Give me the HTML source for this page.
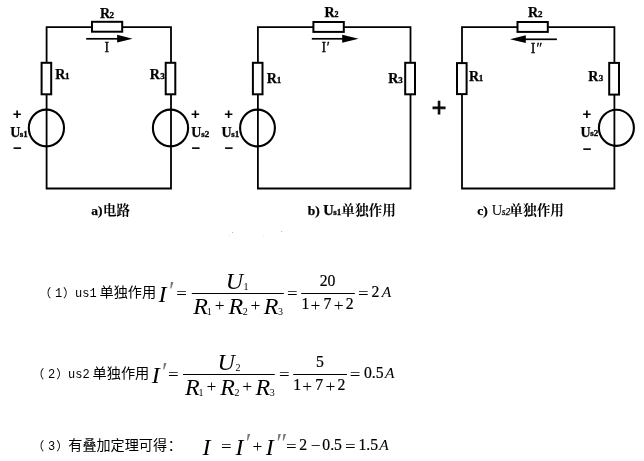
<!DOCTYPE html>
<html lang="zh-CN">
<head>
<meta charset="utf-8">
<title>叠加定理 电路</title>
<style>
html,body{margin:0;padding:0;background:#fff;}
body{width:644px;height:461px;overflow:hidden;position:relative;}
svg{position:absolute;left:0;top:0;display:block;will-change:transform;}
text{fill:#000;white-space:pre;}
.w{fill:none;stroke:#000;stroke-width:1.8;}
.k{fill:none;stroke:#000;stroke-width:2.1;}
.r{fill:#fff;stroke:#000;stroke-width:2;}
.a{fill:none;stroke:#000;stroke-width:1.7;}
.fb{fill:none;stroke:#000;stroke-width:1;}
.CB{font-family:"Liberation Serif","Noto Serif CJK SC",serif;font-weight:bold;}
.GS{font-family:"Liberation Sans","Noto Sans CJK SC",sans-serif;}
.LB{font-family:"Liberation Serif","Noto Serif CJK SC",serif;font-weight:bold;}
.LI{font-family:"Liberation Serif","Noto Serif CJK SC",serif;font-style:italic;}
.LR{font-family:"Liberation Serif","Noto Serif CJK SC",serif;}
.MO{font-family:"Liberation Mono",monospace;}
.SB{font-family:"Liberation Sans","Noto Sans CJK SC",sans-serif;font-weight:bold;}
.SR{font-family:"Liberation Sans","Noto Sans CJK SC",sans-serif;}
</style>
</head>
<body>
<svg width="644" height="461" viewBox="0 0 644 461" role="img" aria-label="叠加定理电路图与计算">
<rect width="644" height="461" fill="#fff"/>
<!-- circuit a -->
<path class="w" d="M46.6 188.5V27.2H171V188.5Z"/>
<ellipse class="k" cx="46.4" cy="128" rx="17.6" ry="18.4"/>
<ellipse class="k" cx="170.5" cy="128" rx="17.6" ry="18.4"/>
<rect class="r" x="92" y="21.8" width="30.2" height="9.9"/>
<rect class="r" x="41.6" y="62.8" width="9.6" height="31.5"/>
<rect class="r" x="165.7" y="62.8" width="9.6" height="31.5"/>
<path class="a" d="M86.2 38.8H118"/>
<path d="M117.1 34.8L132.6 38.7L117.1 42.6Z" fill="#000"/>
<!-- circuit b -->
<path class="w" d="M257.9 188.5V27.1H410.5V188.5Z"/>
<ellipse class="k" cx="257.5" cy="128" rx="17.4" ry="18.4"/>
<rect class="r" x="313.4" y="22" width="30.4" height="9.9"/>
<rect class="r" x="252.9" y="62.8" width="9.6" height="31.5"/>
<rect class="r" x="405.2" y="62.8" width="9.8" height="31.5"/>
<path class="a" d="M311.8 38.8H343"/>
<path d="M342.2 34.7L358.6 38.7L342.2 42.7Z" fill="#000"/>
<!-- circuit c -->
<path class="w" d="M462 188.5V27.1H614.4V188.5Z"/>
<ellipse class="k" cx="616.4" cy="127.8" rx="17.5" ry="18.1"/>
<rect class="r" x="517.5" y="22" width="30.3" height="9.9"/>
<rect class="r" x="457" y="63.1" width="9.6" height="31"/>
<rect class="r" x="609.2" y="62.9" width="9.8" height="31.7"/>
<path class="a" d="M525 39.3H556.9"/>
<path d="M525.8 35.3L510 39.2L525.8 43.1Z" fill="#000"/>
<!-- fraction bars -->
<path class="fb" d="M191.8 293.5H283.8M301.2 293.5H354.8"/>
<path class="fb" d="M183 374.5H274.8M293.2 374.5H347"/>
<!-- faint scan specks -->
<g fill="#9a9a9a"><circle cx="232.6" cy="232.4" r="0.5"/><circle cx="229.2" cy="235.2" r="0.45" opacity=".6"/><circle cx="263.4" cy="236.4" r="0.4" opacity=".7"/><circle cx="281.7" cy="231.5" r="0.5"/></g>

<text><tspan class="LB" font-size="14" stroke="#000" stroke-width="0.25" x="99.95" y="17.50">R</tspan><tspan class="LB" font-size="9" stroke="#000" stroke-width="0.3" x="109.50" y="17.50">2</tspan></text>
<text class="LR" font-size="14" stroke="#000" stroke-width="0.3" x="104.40" y="51.80">I</text>
<text><tspan class="LB" font-size="14" stroke="#000" stroke-width="0.25" x="55.25" y="78.80">R</tspan><tspan class="LB" font-size="9" stroke="#000" stroke-width="0.3" x="64.95" y="78.80">1</tspan></text>
<text><tspan class="LB" font-size="14" stroke="#000" stroke-width="0.25" x="149.65" y="78.80">R</tspan><tspan class="LB" font-size="9" stroke="#000" stroke-width="0.3" x="160.15" y="78.80">3</tspan></text>
<text class="SB" font-size="15" x="12.70" y="119.00">+</text>
<text class="SB" font-size="15" x="13.12" y="153.40">−</text>
<text><tspan class="LB" font-size="14" stroke="#000" stroke-width="0.25" x="10.35" y="136.60">U</tspan><tspan class="LB" font-size="9" stroke="#000" stroke-width="0.3" x="19.75" y="136.50">s1</tspan></text>
<text class="SB" font-size="15" x="191.10" y="118.90">+</text>
<text class="SB" font-size="15" x="191.43" y="153.40">−</text>
<text><tspan class="LB" font-size="14" stroke="#000" stroke-width="0.25" x="191.35" y="136.90">U</tspan><tspan class="LB" font-size="9" stroke="#000" stroke-width="0.3" x="201.35" y="136.80">s2</tspan></text>
<text><tspan class="LB" font-size="13.5" stroke="#000" stroke-width="0.25" x="91.30" y="214.80">a)</tspan><tspan class="CB" font-size="13.5" x="103.10" y="214.75">电路</tspan></text>
<text><tspan class="LB" font-size="14" stroke="#000" stroke-width="0.25" x="324.55" y="17.40">R</tspan><tspan class="LB" font-size="8" stroke="#000" stroke-width="0.3" x="334.55" y="17.40">2</tspan></text>
<text><tspan class="LR" font-size="14" stroke="#000" stroke-width="0.3" x="321.60" y="51.90">I</tspan><tspan class="LR" font-size="14" stroke="#000" stroke-width="0.3" x="326.65" y="51.90">′</tspan></text>
<text><tspan class="LB" font-size="14" stroke="#000" stroke-width="0.25" x="266.85" y="82.90">R</tspan><tspan class="LB" font-size="9" stroke="#000" stroke-width="0.3" x="276.85" y="82.90">1</tspan></text>
<text><tspan class="LB" font-size="14" stroke="#000" stroke-width="0.25" x="388.15" y="82.90">R</tspan><tspan class="LB" font-size="9" stroke="#000" stroke-width="0.3" x="398.35" y="82.90">3</tspan></text>
<text class="SB" font-size="15" x="224.30" y="118.90">+</text>
<text class="SB" font-size="15" x="224.62" y="153.40">−</text>
<text><tspan class="LB" font-size="14" stroke="#000" stroke-width="0.25" x="221.55" y="136.90">U</tspan><tspan class="LB" font-size="9" stroke="#000" stroke-width="0.3" x="231.15" y="136.80">s1</tspan></text>
<text><tspan class="LB" font-size="13.5" stroke="#000" stroke-width="0.25" x="307.85" y="214.80">b) </tspan><tspan class="LB" font-size="14.5" stroke="#000" stroke-width="0.25" x="323.35" y="214.80">U</tspan><tspan class="LB" font-size="9" stroke="#000" stroke-width="0.3" x="333.35" y="214.80">s1</tspan><tspan class="CB" font-size="13.7" x="341.20" y="215.05">单独作用</tspan></text>
<text class="SR" font-size="25" stroke="#000" stroke-width="0.8" x="431.65" y="115.67">+</text>
<text><tspan class="LB" font-size="14" stroke="#000" stroke-width="0.25" x="528.05" y="17.40">R</tspan><tspan class="LB" font-size="9" stroke="#000" stroke-width="0.3" x="537.90" y="17.40">2</tspan></text>
<text><tspan class="LR" font-size="14" stroke="#000" stroke-width="0.3" x="530.70" y="52.70">I</tspan><tspan class="LR" font-size="14" stroke="#000" stroke-width="0.3" x="536.55" y="52.70">″</tspan></text>
<text><tspan class="LB" font-size="14" stroke="#000" stroke-width="0.25" x="469.05" y="80.90">R</tspan><tspan class="LB" font-size="9" stroke="#000" stroke-width="0.3" x="478.65" y="80.90">1</tspan></text>
<text><tspan class="LB" font-size="14" stroke="#000" stroke-width="0.25" x="588.25" y="80.80">R</tspan><tspan class="LB" font-size="9" stroke="#000" stroke-width="0.3" x="598.75" y="80.80">3</tspan></text>
<text class="SB" font-size="15" x="582.50" y="118.70">+</text>
<text class="SB" font-size="15" x="582.83" y="153.60">−</text>
<text><tspan class="LB" font-size="14" stroke="#000" stroke-width="0.25" x="580.45" y="136.50">U</tspan><tspan class="LB" font-size="9" stroke="#000" stroke-width="0.3" x="590.15" y="136.40">s2</tspan></text>
<text><tspan class="LB" font-size="13.5" stroke="#000" stroke-width="0.25" x="477.30" y="214.80">c) </tspan><tspan class="LR" font-size="14.5" x="491.75" y="214.80">U</tspan><tspan class="LI" font-size="9.5" stroke="#000" stroke-width="0.25" x="501.75" y="214.80">s2</tspan><tspan class="CB" font-size="13.7" x="509.30" y="215.05">单独作用</tspan></text>
<text><tspan class="GS" font-size="12" x="39.25" y="297.82">（</tspan><tspan class="MO" font-size="12" x="54.95" y="297.10">1</tspan><tspan class="GS" font-size="12" x="63.05" y="297.82">）</tspan><tspan class="MO" font-size="12" x="75.00" y="297.20">us1</tspan><tspan class="GS" font-size="14.2" x="99.45" y="297.20">单独作用</tspan></text>
<text><tspan class="LI" font-size="24" x="158.60" y="301.60">I</tspan><tspan class="LI" font-size="27" fill="#777" x="167.20" y="299.55">′</tspan></text>
<text class="LR" font-size="16" transform="translate(176.31 298.75) scale(1.18 1)">=</text>
<text><tspan class="LI" font-size="24" x="225.75" y="289.05">U</tspan><tspan class="LR" font-size="10" x="243.60" y="289.80">1</tspan></text>
<text><tspan class="LI" font-size="24" x="193.20" y="313.60">R</tspan><tspan class="LR" font-size="10" x="206.70" y="314.60">1</tspan><tspan class="LR" font-size="17.5" x="214.78" y="311.15">+</tspan><tspan class="LI" font-size="24" x="228.50" y="313.60">R</tspan><tspan class="LR" font-size="10" x="242.70" y="314.60">2</tspan><tspan class="LR" font-size="17.5" x="250.53" y="311.15">+</tspan><tspan class="LI" font-size="24" x="263.80" y="313.60">R</tspan><tspan class="LR" font-size="10" x="277.90" y="314.60">3</tspan></text>
<text class="LR" font-size="16" transform="translate(287.12 298.60) scale(1.18 1)">=</text>
<text class="LR" font-size="15.7" stroke="#000" stroke-width="0.2" x="319.65" y="285.50">20</text>
<text><tspan class="LR" font-size="15.7" stroke="#000" stroke-width="0.2" x="301.50" y="308.60">1</tspan><tspan class="LR" font-size="17.5" x="310.48" y="310.55">+</tspan><tspan class="LR" font-size="15.7" stroke="#000" stroke-width="0.2" x="323.40" y="308.60">7</tspan><tspan class="LR" font-size="17.5" x="333.77" y="310.55">+</tspan><tspan class="LR" font-size="15.7" stroke="#000" stroke-width="0.2" x="345.75" y="308.60">2</tspan></text>
<text class="LR" font-size="16" transform="translate(358.01 298.60) scale(1.18 1)">=</text>
<text><tspan class="LR" font-size="15.7" stroke="#000" stroke-width="0.2" x="371.55" y="296.70">2</tspan><tspan class="LI" font-size="15.5" x="381.75" y="296.70">A</tspan></text>
<text><tspan class="GS" font-size="12" x="32.35" y="378.92">（</tspan><tspan class="MO" font-size="12" x="48.05" y="378.20">2</tspan><tspan class="GS" font-size="12" x="56.15" y="378.92">）</tspan><tspan class="MO" font-size="12" x="68.10" y="378.30">us2</tspan><tspan class="GS" font-size="14.2" x="92.55" y="378.30">单独作用</tspan></text>
<text><tspan class="LI" font-size="24" x="151.70" y="382.70">I</tspan><tspan class="LI" font-size="27" fill="#777" x="160.30" y="380.65">′</tspan></text>
<text class="LR" font-size="16" transform="translate(168.12 379.85) scale(1.18 1)">=</text>
<text><tspan class="LI" font-size="24" x="217.55" y="370.15">U</tspan><tspan class="LR" font-size="10" x="235.60" y="370.90">2</tspan></text>
<text><tspan class="LI" font-size="24" x="185.00" y="394.70">R</tspan><tspan class="LR" font-size="10" x="198.50" y="395.70">1</tspan><tspan class="LR" font-size="17.5" x="206.58" y="392.25">+</tspan><tspan class="LI" font-size="24" x="220.30" y="394.70">R</tspan><tspan class="LR" font-size="10" x="234.50" y="395.70">2</tspan><tspan class="LR" font-size="17.5" x="242.33" y="392.25">+</tspan><tspan class="LI" font-size="24" x="255.60" y="394.70">R</tspan><tspan class="LR" font-size="10" x="269.70" y="395.70">3</tspan></text>
<text class="LR" font-size="16" transform="translate(278.92 379.70) scale(1.18 1)">=</text>
<text class="LR" font-size="15.7" stroke="#000" stroke-width="0.2" x="315.90" y="367.00">5</text>
<text><tspan class="LR" font-size="15.7" stroke="#000" stroke-width="0.2" x="293.30" y="389.70">1</tspan><tspan class="LR" font-size="17.5" x="302.28" y="391.65">+</tspan><tspan class="LR" font-size="15.7" stroke="#000" stroke-width="0.2" x="315.20" y="389.70">7</tspan><tspan class="LR" font-size="17.5" x="325.57" y="391.65">+</tspan><tspan class="LR" font-size="15.7" stroke="#000" stroke-width="0.2" x="337.55" y="389.70">2</tspan></text>
<text class="LR" font-size="16" transform="translate(349.81 379.70) scale(1.18 1)">=</text>
<text><tspan class="LR" font-size="15.7" stroke="#000" stroke-width="0.2" x="364.00" y="377.65">0.5</tspan><tspan class="LI" font-size="15.5" x="384.95" y="377.80">A</tspan></text>
<text><tspan class="GS" font-size="12" x="32.35" y="450.82">（</tspan><tspan class="MO" font-size="12" x="48.05" y="450.10">3</tspan><tspan class="GS" font-size="12" x="56.15" y="450.82">）</tspan><tspan class="GS" font-size="14.1" x="68.35" y="450.20">有叠加定理可得</tspan><tspan class="GS" font-size="14" x="167.70" y="450.10">：</tspan></text>
<text class="LI" font-size="24" x="202.60" y="454.60">I</text>
<text class="LR" font-size="16" transform="translate(220.92 451.55) scale(1.18 1)">=</text>
<text><tspan class="LI" font-size="24" x="235.50" y="454.60">I</tspan><tspan class="LI" font-size="27" fill="#777" x="244.00" y="452.45">′</tspan><tspan class="LR" font-size="17.5" x="252.48" y="451.75">+</tspan><tspan class="LI" font-size="24" x="265.80" y="454.60">I</tspan><tspan class="LI" font-size="27" fill="#777" x="274.45" y="452.45">″</tspan></text>
<text class="LR" font-size="16" transform="translate(285.92 451.55) scale(1.18 1)">=</text>
<text><tspan class="LR" font-size="15.7" stroke="#000" stroke-width="0.2" x="299.35" y="449.80">2</tspan><tspan class="LR" font-size="17.5" x="310.68" y="451.48">−</tspan><tspan class="LR" font-size="15.7" stroke="#000" stroke-width="0.2" x="322.30" y="449.75">0.5</tspan></text>
<text class="LR" font-size="16" transform="translate(345.01 451.55) scale(1.18 1)">=</text>
<text><tspan class="LR" font-size="15.7" stroke="#000" stroke-width="0.2" x="358.50" y="449.75">1.5</tspan><tspan class="LI" font-size="15.5" x="379.25" y="449.90">A</tspan></text>

</svg>
</body>
</html>
